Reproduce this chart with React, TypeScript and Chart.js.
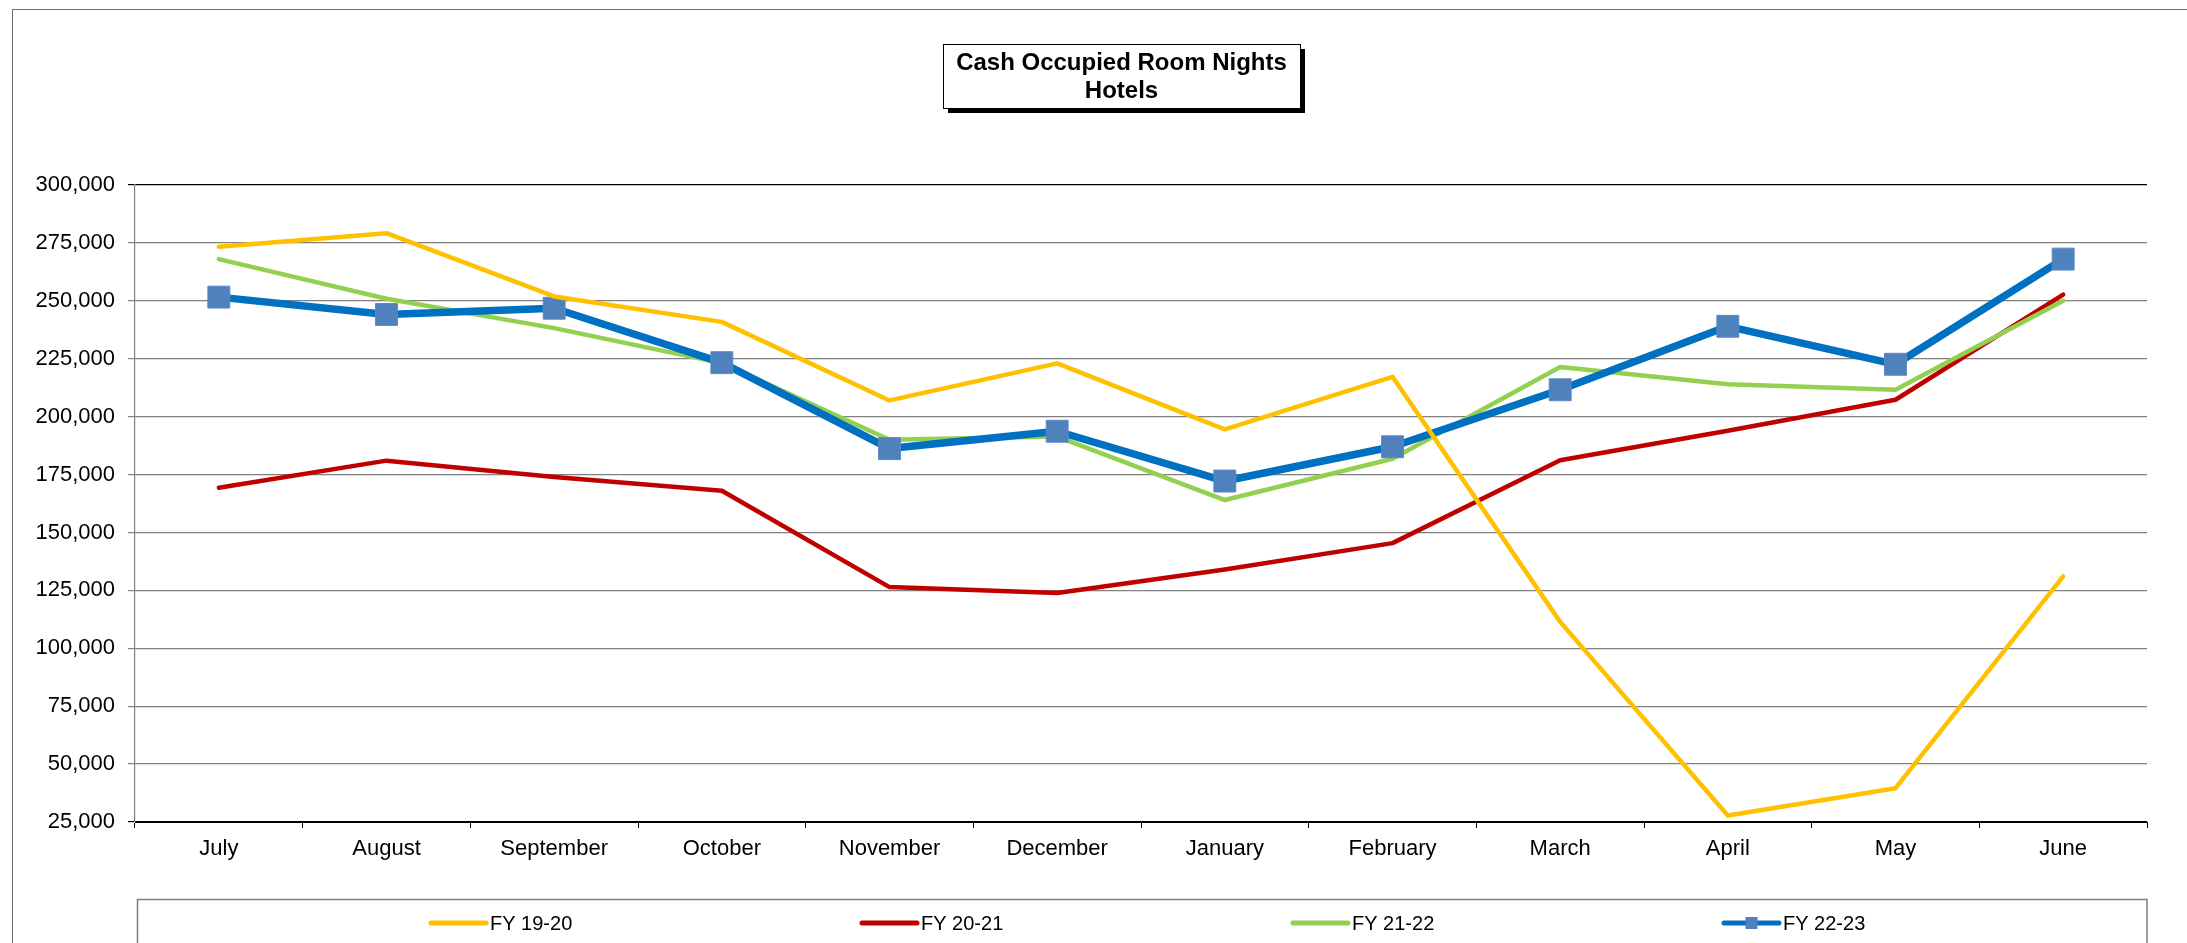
import React, { useEffect, useRef } from "react";
import { Chart, registerables } from "chart.js";

Chart.register(...registerables);

const categories = ["July", "August", "September", "October", "November", "December", "January", "February", "March", "April", "May", "June"];
const fy1920 = [273300, 279200, 251900, 240900, 207000, 223000, 194500, 217200, 111400, 27800, 39600, 131000];
const fy2021 = [169300, 181000, 173900, 168000, 126400, 123900, 134000, 145400, 181200, 193900, 207300, 252700];
const fy2122 = [268000, 250900, 238200, 223100, 190000, 191400, 164000, 181800, 221400, 214000, 211600, 250000];
const fy2223 = [251600, 244100, 246800, 223300, 186200, 193700, 172200, 187000, 211600, 239000, 222600, 268000];
const seriesLabels = ["FY 19-20", "FY 20-21", "FY 21-22", "FY 22-23"];
const titleLines = ["Cash Occupied Room Nights", "Hotels"];
const yMin = 25000;
const yMax = 300000;
const yStep = 25000;

const FONT = "'Liberation Sans', Arial, Helvetica, sans-serif";
const CW = 2200;
const CH = 960;

const framePlugin = {
  id: "frame",
  beforeDraw(chart: any) {
    const ctx = chart.ctx;
    ctx.save();
    ctx.fillStyle = "#ffffff";
    ctx.fillRect(0, 0, chart.width, chart.height);
    ctx.strokeStyle = "#6e6e6e";
    ctx.lineWidth = 1;
    ctx.strokeRect(12.5, 9.5, 2400, 2000);
    ctx.restore();
  },
  afterDraw(chart: any) {
    const ctx = chart.ctx;
    ctx.save();
    // title box with shadow
    const bx = 943, by = 44, bw = 357, bh = 64;
    ctx.fillStyle = "#000";
    ctx.fillRect(bx + 5, by + 5, bw, bh);
    ctx.fillStyle = "#fff";
    ctx.fillRect(bx, by, bw, bh);
    ctx.strokeStyle = "#000";
    ctx.lineWidth = 1;
    ctx.strokeRect(bx + 0.5, by + 0.5, bw, bh);
    ctx.fillStyle = "#000";
    ctx.font = `bold 24px ${FONT}`;
    ctx.textAlign = "center";
    ctx.textBaseline = "middle";
    ctx.fillText(titleLines[0], bx + bw / 2, 63);
    ctx.fillText(titleLines[1], bx + bw / 2, 91.5);

    // legend box
    ctx.strokeStyle = "#7f7f7f";
    ctx.lineWidth = 1.5;
    ctx.strokeRect(137.5, 899.5, 2147 - 137.5, 200);

    const ds = chart.data.datasets;
    ctx.font = `20px ${FONT}`;
    ctx.textAlign = "left";
    ctx.textBaseline = "middle";
    const ly = 923;
    ds.forEach((d: any, i: number) => {
      const x0 = 431 + 431 * i;
      const x1 = x0 + 55;
      ctx.strokeStyle = d.borderColor;
      ctx.lineWidth = 5;
      ctx.lineCap = "round";
      ctx.beginPath();
      ctx.moveTo(x0, ly);
      ctx.lineTo(x1, ly);
      ctx.stroke();
      if (d.pointRadius > 0) {
        ctx.fillStyle = d.pointBackgroundColor;
        ctx.fillRect((x0 + x1) / 2 - 6, ly - 6, 12, 12);
      }
      ctx.fillStyle = "#000";
      ctx.fillText(d.label, x1 + 4, ly + 1);
    });
    ctx.restore();
  },
};

export default function App() {
  const ref = useRef<HTMLCanvasElement | null>(null);
  useEffect(() => {
    if (!ref.current) return;
    Chart.defaults.font.family = FONT;
    const gridColor = (c: any) => {
      const v = c.tick ? c.tick.value : null;
      return v === yMax || v === yMin ? "#000000" : "#808080";
    };
    const chart = new Chart(ref.current, {
      type: "line",
      data: {
        labels: categories,
        datasets: [
          {
            label: seriesLabels[0],
            data: fy1920,
            borderColor: "#ffc000",
            backgroundColor: "#ffc000",
            borderWidth: 4.5,
            pointRadius: 0,
            borderCapStyle: "round",
            borderJoinStyle: "round",
            order: 0,
          },
          {
            label: seriesLabels[1],
            data: fy2021,
            borderColor: "#c00000",
            backgroundColor: "#c00000",
            borderWidth: 4.5,
            pointRadius: 0,
            borderCapStyle: "round",
            borderJoinStyle: "round",
            order: 3,
          },
          {
            label: seriesLabels[2],
            data: fy2122,
            borderColor: "#92d050",
            backgroundColor: "#92d050",
            borderWidth: 4.5,
            pointRadius: 0,
            borderCapStyle: "round",
            borderJoinStyle: "round",
            order: 2,
          },
          {
            label: seriesLabels[3],
            data: fy2223,
            borderColor: "#0070c0",
            backgroundColor: "#4f81bd",
            borderWidth: 7.5,
            pointStyle: "rect",
            pointRadius: 15.5,
            pointBackgroundColor: "#4f81bd",
            pointBorderColor: "#5a8ac4",
            pointBorderWidth: 1,
            borderJoinStyle: "round",
            order: 1,
          },
        ],
      } as any,
      options: {
        animation: false,
        responsive: true,
        maintainAspectRatio: false,
        layout: { padding: { top: 185, left: 0, right: CW - 2147, bottom: CH - 822 - 60 } },
        plugins: {
          legend: { display: false },
          title: { display: false },
          tooltip: { enabled: false },
        },
        scales: {
          x: {
            type: "category",
            offset: true,
            grid: { offset: true, drawOnChartArea: false, drawTicks: true, tickLength: 6, color: "#000000" },
            border: { color: "#000000", width: 1 },
            ticks: { color: "#000000", font: { size: 22, family: FONT }, padding: 8, maxRotation: 0, autoSkip: false },
            afterFit: (s: any) => { s.height = 60; },
          },
          y: {
            min: yMin,
            max: yMax,
            grid: { color: gridColor, lineWidth: 1.2, drawTicks: true, tickLength: 7 },
            border: { color: "#808080", width: 1.2 },
            ticks: {
              stepSize: yStep,
              color: "#000000",
              font: { size: 22, family: FONT },
              padding: 13,
              callback: (v: any) => Number(v).toLocaleString("en-US"),
            },
            afterFit: (s: any) => { s.width = 135; },
          },
        },
      } as any,
      plugins: [framePlugin],
    });
    return () => chart.destroy();
  }, []);

  return (
    <div style={{ position: "fixed", left: 0, top: 0, width: "100vw", height: "100vh", overflow: "hidden", background: "#fff" }}>
      <div style={{ position: "absolute", left: 0, top: 0, width: CW, height: CH }}>
        <canvas ref={ref} />
      </div>
    </div>
  );
}
